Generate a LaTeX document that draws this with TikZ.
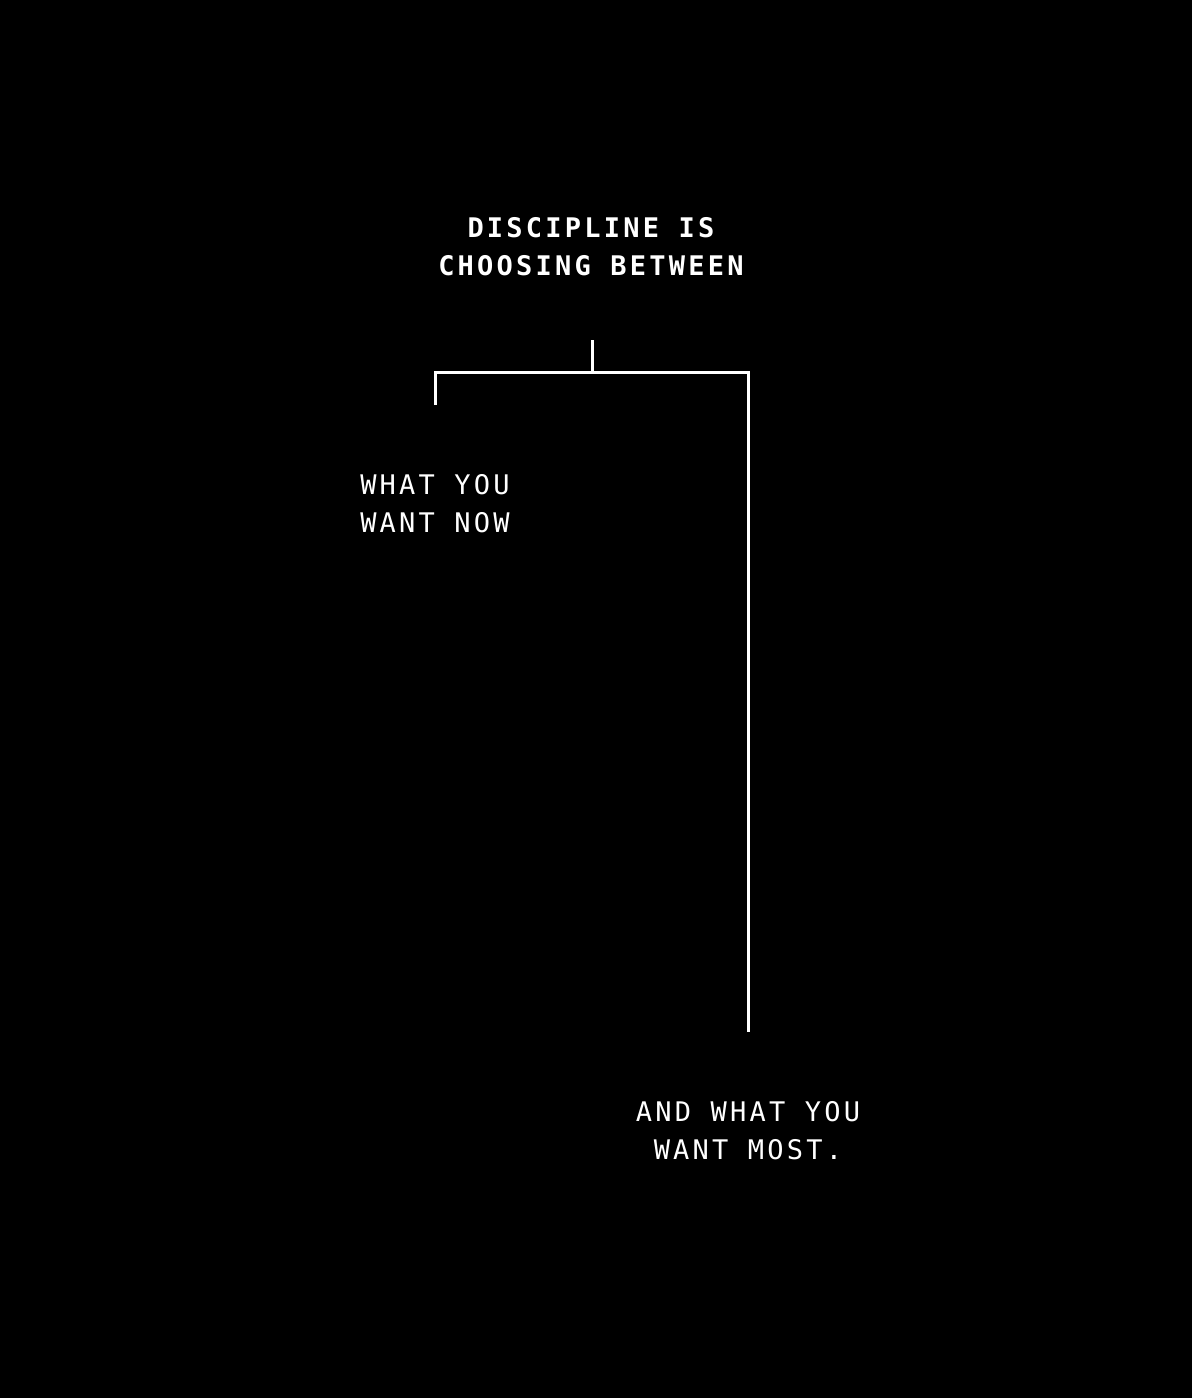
\documentclass[tikz,border=0pt]{standalone}
\usepackage{fontspec}
\newfontfamily\techfont[LetterSpace=12]{DejaVu Sans Mono}
\newfontfamily\techbold[LetterSpace=12]{DejaVu Sans Mono Bold}
\begin{document}
\begin{tikzpicture}[x=1pt,y=-1pt,
  lbl/.style={text=white,inner sep=0pt,anchor=north,align=center,
    font=\techfont\fontsize{27}{38.5}\selectfont},
  lblbold/.style={lbl,font=\techbold\fontsize{27}{38.5}\selectfont},
  wire/.style={draw=white,line width=3pt,line cap=butt,line join=miter}]
\useasboundingbox[fill=black] (0,0) rectangle (1192,1398);
\node[lblbold] (head) at (591,217) {DISCIPLINE IS\\CHOOSING BETWEEN};
\node[lbl] (now) at (435,474) {WHAT YOU\\WANT NOW};
\node[lbl] (most) at (748,1101) {AND WHAT YOU\\WANT MOST.};
\coordinate (stemtop) at (592,340);
\coordinate (joint) at (592,372);
\coordinate (lcorner) at (435,372);
\coordinate (rcorner) at (748,372);
\coordinate (lend) at (435,405);
\coordinate (rend) at (748,1032);
\draw[wire] (stemtop) -- (joint);
\draw[wire] (lend) -- (lcorner) -- (rcorner) -- (rend);
\end{tikzpicture}
\end{document}
